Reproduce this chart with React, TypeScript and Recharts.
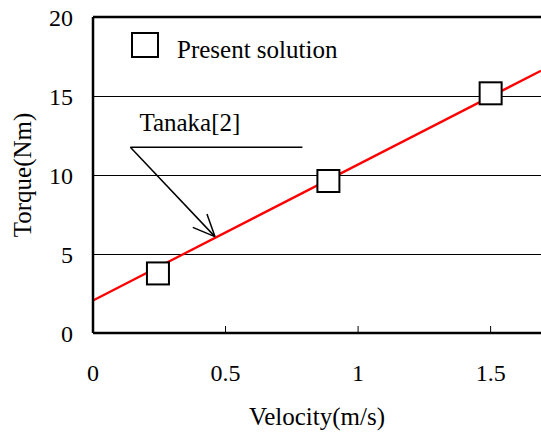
import React from 'react';
import {
  ComposedChart,
  Line,
  Scatter,
  XAxis,
  YAxis,
  CartesianGrid,
  ReferenceLine,
  Legend,
} from 'recharts';

const FONT = '"Liberation Serif", "Times New Roman", Times, serif';

// Measured points (Present solution)
const velocities = [0.245, 0.888, 1.5];
const torques = [3.77, 9.62, 15.17];

// Tanaka[2] fitted line endpoints
const fitVelocity = [0, 1.69];
const fitTorque = [2.06, 16.6];

const xTicks = [0, 0.5, 1, 1.5];
const yTicks = [0, 5, 10, 15, 20];

const seriesName = 'Present solution';
const annotationText = 'Tanaka[2]';
const xLabel = 'Velocity(m/s)';
const yLabel = 'Torque(Nm)';

// annotation anchor points in data units
const annStart = { x: 0.141, y: 11.75 };
const annEnd = { x: 0.79, y: 11.75 };
const arrowTip = { x: 0.46, y: 6.1 };

const pointData = velocities.map((v, i) => ({ v, t: torques[i] }));
const lineData = fitVelocity.map((v, i) => ({ v, t: fitTorque[i] }));

const textStyle = { fontFamily: FONT, fill: '#000' } as React.CSSProperties;

const SquareShape = (props: any) => {
  const { cx, cy } = props;
  if (cx == null || cy == null) return null;
  return (
    <rect x={cx - 11} y={cy - 11} width={22} height={22} fill="#fff" stroke="#000" strokeWidth={2} />
  );
};

const ArrowShape = (props: any) => {
  const { x1, y1, x2, y2 } = props;
  const dx = x2 - x1;
  const dy = y2 - y1;
  const len = Math.sqrt(dx * dx + dy * dy) || 1;
  const ux = -dx / len;
  const uy = -dy / len;
  const ang = (24 * Math.PI) / 180;
  const hl = 24;
  const rot = (a: number) => ({
    x: x2 + hl * (ux * Math.cos(a) - uy * Math.sin(a)),
    y: y2 + hl * (ux * Math.sin(a) + uy * Math.cos(a)),
  });
  const p1 = rot(ang);
  const p2 = rot(-ang);
  return (
    <g>
      <line x1={x1} y1={y1} x2={x2} y2={y2} stroke="#000" strokeWidth={1.5} />
      <line x1={x2} y1={y2} x2={p1.x} y2={p1.y} stroke="#000" strokeWidth={1.5} />
      <line x1={x2} y1={y2} x2={p2.x} y2={p2.y} stroke="#000" strokeWidth={1.5} />
    </g>
  );
};

const LeaderShape = (props: any) => {
  const { x1, y1, x2, y2 } = props;
  return (
    <g>
      <line x1={x1} y1={y1} x2={x2} y2={y2} stroke="#000" strokeWidth={1.5} />
      <text x={x1 + 9} y={y1 - 16} fontSize={25} style={textStyle}>
        {annotationText}
      </text>
    </g>
  );
};

const XTick = (props: any) => {
  const { x, y, payload } = props;
  return (
    <text x={x} y={y} dy="0.71em" textAnchor="middle" fontSize={24} style={textStyle}>
      {String(payload.value)}
    </text>
  );
};

const YTick = (props: any) => {
  const { x, y, payload } = props;
  return (
    <text x={x} y={y} dy="0.355em" textAnchor="end" fontSize={24} style={textStyle}>
      {String(payload.value)}
    </text>
  );
};

const LegendContent = () => (
  <div style={{ position: 'relative', width: 240, height: 30, fontFamily: FONT }}>
    <span
      style={{
        position: 'absolute',
        left: 0,
        top: 0,
        width: 28,
        height: 26,
        border: '2px solid #000',
        boxSizing: 'border-box',
        background: '#fff',
      }}
    />
    <span
      style={{
        position: 'absolute',
        left: 46,
        top: 4,
        fontSize: 25,
        lineHeight: 'normal',
        color: '#000',
        whiteSpace: 'nowrap',
      }}
    >
      {seriesName}
    </span>
  </div>
);

export default function App() {
  return (
    <div style={{ position: 'absolute', left: 0, top: 0, width: 541, height: 432, fontFamily: FONT }}>
      <ComposedChart
        width={541}
        height={432}
        margin={{ top: 17, right: 0, left: 0, bottom: 0 }}
        style={{ fontFamily: FONT }}
      >
        <CartesianGrid horizontal vertical={false} stroke="#000" strokeWidth={1} shapeRendering="crispEdges" />
        <XAxis
          type="number"
          dataKey="v"
          domain={[0, 1.69]}
          ticks={xTicks}
          allowDataOverflow
          height={99}
          axisLine={{ stroke: '#000', strokeWidth: 2.5 }}
          tickLine={{ stroke: '#000', strokeWidth: 1 }}
          tickSize={-7}
          tickMargin={38}
          tick={XTick}
          label={{
            content: (p: any) => {
              const vb = p.viewBox || {};
              return (
                <text
                  x={vb.x + vb.width / 2}
                  y={vb.y + 92}
                  textAnchor="middle"
                  fontSize={25}
                  style={textStyle}
                >
                  {xLabel}
                </text>
              );
            },
          }}
        />
        <YAxis
          type="number"
          domain={[0, 20]}
          ticks={yTicks}
          width={93}
          axisLine={{ stroke: '#000', strokeWidth: 2.5 }}
          tickLine={false}
          tickSize={0}
          tickMargin={20}
          tick={YTick}
          label={{
            content: (p: any) => {
              const vb = p.viewBox || {};
              const x = vb.x + 31;
              const y = vb.y + vb.height / 2;
              return (
                <text
                  x={x}
                  y={y}
                  transform={`rotate(-90, ${x}, ${y})`}
                  textAnchor="middle"
                  fontSize={25}
                  style={textStyle}
                >
                  {yLabel}
                </text>
              );
            },
          }}
        />
        <ReferenceLine y={20} stroke="#000" strokeWidth={2.5} />
        <Legend
          layout="horizontal"
          verticalAlign="middle"
          align="center"
          content={LegendContent}
          wrapperStyle={{ top: 32, left: 131, width: 240, height: 30, bottom: 'auto', right: 'auto' }}
        />
        <Line
          data={lineData}
          dataKey="t"
          stroke="#ff0000"
          strokeWidth={2.3}
          dot={false}
          activeDot={false}
          isAnimationActive={false}
          legendType="none"
        />
        <Scatter
          data={pointData}
          dataKey="t"
          name={seriesName}
          shape={SquareShape}
          isAnimationActive={false}
        />
        <ReferenceLine segment={[annStart, annEnd]} shape={LeaderShape} />
        <ReferenceLine segment={[annStart, arrowTip]} shape={ArrowShape} />
      </ComposedChart>
    </div>
  );
}
